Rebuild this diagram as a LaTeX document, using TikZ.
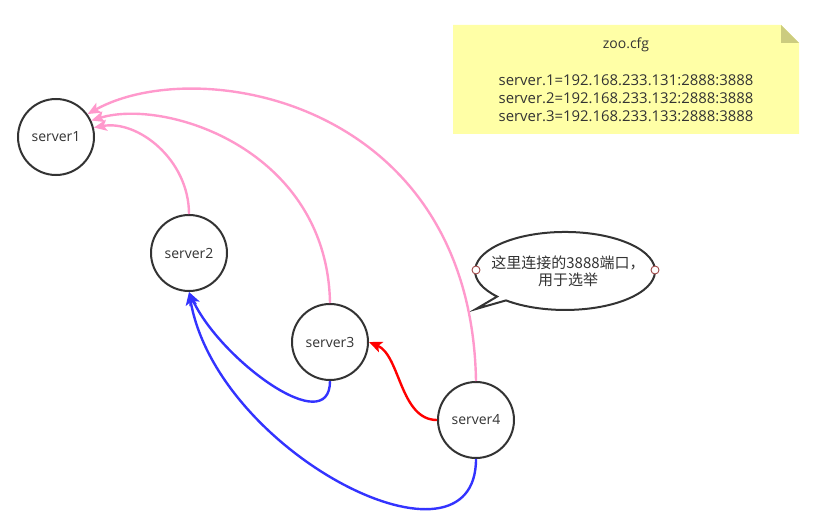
\documentclass[tikz,border=0pt]{standalone}
\usepackage{fontspec}
\setmainfont{Open Sans}
\newfontfamily\cjk{Noto Sans CJK SC}
\usepackage{tikz}
\usetikzlibrary{positioning,shapes,arrows.meta}
\definecolor{trait}{HTML}{333333}
\definecolor{rose}{HTML}{FF99CC}
\definecolor{bleu}{HTML}{3333FF}
\definecolor{rouge}{HTML}{FF0000}
\definecolor{jaune}{HTML}{FFFFA6}
\definecolor{pli}{HTML}{CCCC7F}
\definecolor{brique}{HTML}{A04848}

\begin{document}
\begin{tikzpicture}[x=1pt,y=-1pt]
          \useasboundingbox (0,0) rectangle (825,524);
          %% ELECTION GRAPH

          \tikzstyle{every node}=[text=trait, font=\fontsize{14}{18}\selectfont]
          \tikzstyle{fleche}=[draw, line width=2.4pt, -{Stealth[length=13pt,width=11pt,inset=3pt]}]
          \tikzstyle{server}=[circle, draw=trait, line width=2pt, fill=white, minimum size=76pt, inner sep=0pt]
          \tikzstyle{port}=[circle, draw=brique, fill=white, line width=0.9pt, minimum size=8pt, inner sep=0pt]

          % note zoo.cfg
          \fill[jaune] (453,25) -- (781,25) -- (799,43) -- (799,134) -- (453,134) -- cycle;
          \fill[pli] (781,25) -- (781,43) -- (799,43) -- cycle;
          \node (cfg) at (626,45) {zoo.cfg};
          \node[align=center, font=\fontsize{14.9}{18}\selectfont] (ips) at (626,98) {server.1=192.168.233.131:2888:3888\\
            server.2=192.168.233.132:2888:3888\\server.3=192.168.233.133:2888:3888};

          % servers
          \node[server] (S1) at (56,137) {server1};
          \node[server] (S2) at (189,253) {server2};
          \node[server] (S3) at (330,342) {server3};
          \node[server] (S4) at (476,420) {server4};

          % callout
          \draw[trait, line width=2pt, fill=white] (476,309) -- (506,300.4)
          arc[start angle=131, end angle=-221, x radius=90, y radius=39] -- cycle;
          \node[align=center, font=\cjk\fontsize{15}{17}\selectfont] (bulle) at (568,271)
          {这里连接的3888端口，\\用于选举};
          \node[port] (pA) at (476,270) {};
          \node[port] (pB) at (655,270) {};

          % pink: to server1
          \path (S2.north) edge [fleche, draw=rose, out=90, in=10, out distance=54, in distance=45] (S1.14)
          (S3.north) edge [fleche, draw=rose, out=91, in=17, out distance=153, in distance=78] (S1.25)
          (S4.north) edge [fleche, draw=rose, out=91, in=29, out distance=281, in distance=126] (S1.36);

          % blue: to server2
          \path (S3.south) edge [fleche, draw=bleu, out=-90, in=-65, out distance=59, in distance=75] (S2.south)
          (S4.south) edge [fleche, draw=bleu, out=-90, in=-80, out distance=125, in distance=165] (S2.south);

          % red: to server3
          \path (S4.west) edge [fleche, draw=rouge, out=180, in=-23, out distance=37, in distance=34] (S3.east);
        \end{tikzpicture}
\end{document}
